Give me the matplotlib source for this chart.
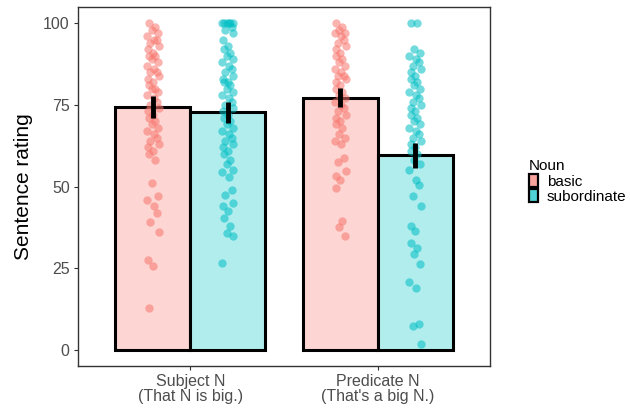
import matplotlib.pyplot as plt
from matplotlib.patches import Patch

plt.rcParams['font.family'] = ['Liberation Sans', 'DejaVu Sans']

# data
positions = ['Subject N\n(That N is big.)', "Predicate N\n(That's a big N.)"]
nouns = ['basic', 'subordinate']
means = {'basic': [74.3, 77.0], 'subordinate': [72.8, 59.6]}
ci_low = {'basic': [71.1, 74.4], 'subordinate': [69.5, 55.8]}
ci_high = {'basic': [77.8, 80.2], 'subordinate': [76.0, 63.4]}

subj_basic = [100, 99, 98, 97, 96, 95, 95, 94, 93, 92, 91, 90, 90, 89, 88, 87, 86, 85, 85,
              84, 83, 82, 81, 80, 80, 79, 78, 77, 76, 75, 74, 73, 72, 71, 70, 69, 68, 67, 66,
              65, 64, 63, 62, 61, 60, 58, 51, 47, 46, 44, 42, 39, 36, 27.5, 25.7, 12.7]
subj_sub = [100, 100, 100, 100, 100, 100, 99, 98, 97, 95, 93, 92, 91, 90, 89, 88, 87, 86,
            85, 84, 83, 82, 82, 81, 80, 79, 78, 77, 76, 75, 74, 73, 72, 71, 70, 69, 68, 67,
            66, 65, 64, 63, 62, 61, 60, 58, 57, 55, 54.5, 53, 49, 47.5, 45, 44, 42.5, 40.4,
            38, 35.8, 34.8, 26.7]
pred_basic = [100, 99, 98, 97, 97, 96, 95, 94, 93, 92, 91, 90, 89, 88, 87, 86, 85, 84, 84,
              83, 82, 81, 80, 79, 78, 77, 76, 75, 74, 73, 72, 71, 70, 69, 68, 66, 65, 64, 63,
              58.8, 57.6, 54.6, 53.1, 52, 49.6, 39.4, 37.7, 34.8]
pred_sub = [100, 100, 92, 91, 90, 89, 88, 87, 86, 85, 84, 83, 82, 81, 80, 79, 78, 77, 76,
            75, 74, 73, 72, 71, 70, 69, 68, 67, 66, 65, 64, 63, 62, 61, 60, 58, 57, 55, 52,
            50.6, 47, 44, 37.9, 36.3, 32.8, 31.3, 29.2, 26.2, 20.6, 19, 7.8, 7.3, 1.7]
points = {'basic': [subj_basic, pred_basic], 'subordinate': [subj_sub, pred_sub]}

jitter = [-0.02, 0.012, -0.006, 0.025, -0.03, 0.006, 0.02, -0.013, 0.03, -0.024, 0.0]

point_col = {'basic': '#F8766D', 'subordinate': '#00BFC4'}
bar_col = {'basic': '#FDD5D2', 'subordinate': '#B2EDEE'}
key_col = {'basic': '#F9A39D', 'subordinate': '#4FD3D6'}

fig = plt.figure(figsize=(6.3, 4.12), dpi=100)
ax = fig.add_axes([78 / 630, 46 / 412, 412 / 630, 359 / 412])

width = 0.4
for j, noun in enumerate(nouns):
    off = (j - 0.5) * width
    xs = [i + 1 + off for i in range(len(positions))]
    ax.bar(xs, means[noun], width=width, color=bar_col[noun], edgecolor='black',
           linewidth=2.2, zorder=1)
    for i, vals in enumerate(points[noun]):
        px = [xs[i] + jitter[k % len(jitter)] for k in range(len(vals))]
        ax.scatter(px, vals, s=36, color=point_col[noun], alpha=0.55, linewidths=0, zorder=2)
    for i in range(len(positions)):
        ax.plot([xs[i], xs[i]], [ci_low[noun][i], ci_high[noun][i]], color='black',
                linewidth=3.5, solid_capstyle='butt', zorder=3)

ax.set_xlim(0.4, 2.6)
ax.set_ylim(-5, 105)
ax.set_xticks([1, 2])
ax.set_xticklabels(positions, fontsize=11.5, color='#4D4D4D', linespacing=1.0)
ax.set_yticks([0, 25, 50, 75, 100])
ax.set_yticklabels(['0', '25', '50', '75', '100'], fontsize=11.5, color='#4D4D4D')
ax.tick_params(length=3, color='#333333', width=0.8, pad=3)
ax.set_ylabel('Sentence rating', fontsize=15, labelpad=7)
for s in ax.spines.values():
    s.set_color('#333333')
    s.set_linewidth(1.0)

handles = [Patch(facecolor=key_col[n], edgecolor='black', linewidth=1.6) for n in nouns]
fig.legend(handles, nouns, title='Noun', loc='upper left', bbox_to_anchor=(520 / 630, 1 - 150 / 412),
           frameon=False, fontsize=11, title_fontsize=11, handlelength=0.6, handleheight=0.9,
           handletextpad=0.55, labelspacing=0.05, alignment='left', borderaxespad=0.2)

fig.savefig('out.png', dpi=100)
